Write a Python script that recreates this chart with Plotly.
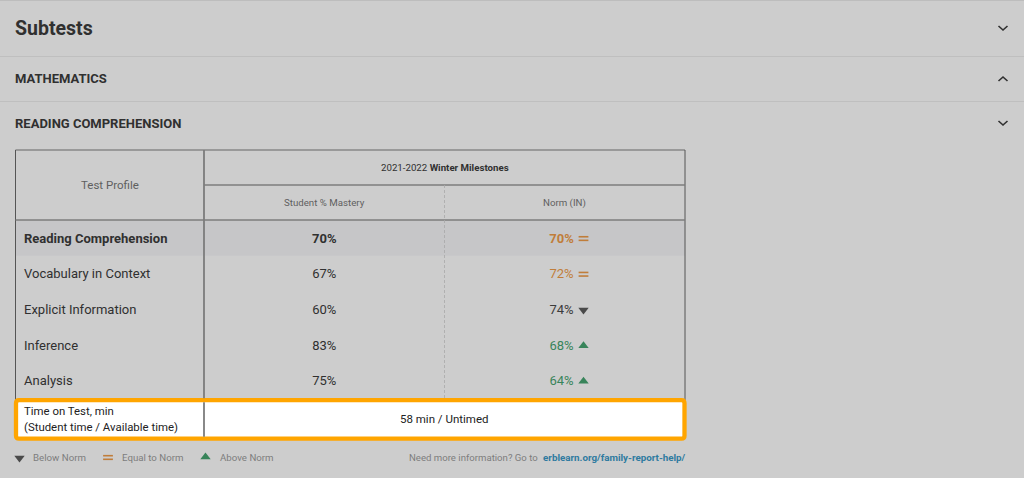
import plotly.graph_objects as go

# table content
section_titles = ['MATHEMATICS', 'READING COMPREHENSION']
row_labels = ['Reading Comprehension', 'Vocabulary in Context', 'Explicit Information', 'Inference', 'Analysis']
student_mastery = ['70%', '67%', '60%', '83%', '75%']
norm_values = ['70%', '72%', '74%', '68%', '64%']
norm_status = ['equal', 'equal', 'below', 'above', 'above']
time_label = ['Time on Test, min', '(Student time / Available time)']
time_value = '58 min / Untimed'

BG = '#cdcdcd'
DARK = '#303030'
GREY = '#5f5f5f'
FONT = 'Roboto'
STATUS_COLOR = {'equal': '#c07d3a', 'below': '#4a4a4a', 'above': '#38845a'}
TEXT_COLOR = {'equal': '#c07d3a', 'below': '#3c3c3c', 'above': '#38845a'}

# layout in pixels of the page
LEFT, COL1, COL2, RIGHT = 15.5, 204, 444.5, 685
TOP, HEAD1, HEAD2 = 150, 185, 220
ROW_H = 35.7
row_y = [HEAD2 + ROW_H * (i + 0.5) for i in range(len(row_labels))]
text_y = [y + 1.5 for y in row_y]
mark_y = [y + 0.7 for y in row_y]
ROWS_END = HEAD2 + ROW_H * len(row_labels)
BOX_T, BOX_B, BOX_L, BOX_R = 400.2, 438.7, 16, 684.5
BOX_RAD = 3
NORM_TEXT_X, NORM_MARK_X = 561.5, 583.5


def line(x0, y0, x1, y1, color='#7c7c7c', width=1.5, dash='solid'):
    return dict(type='line', x0=x0, y0=y0, x1=x1, y1=y1, layer='below',
                line=dict(color=color, width=width, dash=dash))


def note(x, y, text, size=12, color=DARK, anchor='left', bold=False):
    return dict(x=x, y=y, text='<b>%s</b>' % text if bold else text, showarrow=False,
                xanchor=anchor, yanchor='middle', align=anchor,
                font=dict(family=FONT, size=size, color=color))


fig = go.Figure()

shapes = [
    line(0, 0.5, 1024, 0.5, '#bdbdbd', 1),
    line(0, 56.5, 1024, 56.5, '#bfbfbf', 1),
    line(0, 101.5, 1024, 101.5, '#bfbfbf', 1),
    dict(type='rect', x0=LEFT, x1=RIGHT, y0=HEAD2, y1=HEAD2 + ROW_H, layer='below',
         fillcolor='#c6c6c8', line_width=0),
    line(LEFT, TOP, RIGHT, TOP, '#666666', 1.2),
    line(LEFT, TOP, LEFT, BOX_T, '#555555', 1),
    line(RIGHT, TOP, RIGHT, BOX_T, '#555555', 1),
    line(COL1, HEAD1, RIGHT, HEAD1),
    line(LEFT, HEAD2, RIGHT, HEAD2),
    line(COL2, HEAD1, COL2, ROWS_END, '#a8a8a8', 0.8, '3px,2px'),
    dict(type='path', layer='below', fillcolor='white',
         line=dict(color='#ffa500', width=4.3),
         path='M %s %s H %s Q %s %s %s %s V %s Q %s %s %s %s H %s Q %s %s %s %s V %s Q %s %s %s %s Z' % (
             BOX_L + BOX_RAD, BOX_T, BOX_R - BOX_RAD, BOX_R, BOX_T, BOX_R, BOX_T + BOX_RAD, BOX_B - BOX_RAD,
             BOX_R, BOX_B, BOX_R - BOX_RAD, BOX_B, BOX_L + BOX_RAD, BOX_L, BOX_B, BOX_L, BOX_B - BOX_RAD,
             BOX_T + BOX_RAD, BOX_L, BOX_T, BOX_L + BOX_RAD, BOX_T)),
    line(COL1, TOP, COL1, BOX_T - 2, '#7c7c7c', 1.8),
    line(COL1, BOX_T + 2, COL1, BOX_B - 2, '#7c7c7c', 1.8),
]

annotations = [
    note(13, 28.5, 'Subtests', 19.5, '#303030', bold=True),
    note(13, 78.5, section_titles[0], 13, '#303030', bold=True),
    note(13, 123.5, section_titles[1], 13, '#303030', bold=True),
    note((LEFT + COL1) / 2, 184.5, 'Test Profile', 11.5, GREY, 'center'),
    note((COL1 + RIGHT) / 2, 167.5, '2021-2022 <b>Winter Milestones</b>', 9.7, DARK, 'center'),
    note((COL1 + COL2) / 2, 202.5, 'Student % Mastery', 9.7, GREY, 'center'),
    note((COL2 + RIGHT) / 2, 202.5, 'Norm (IN)', 9.7, GREY, 'center'),
    note(22, 410.5, time_label[0], 11.4, '#222222'),
    note(22, 427, time_label[1], 11.4, '#222222'),
    note((COL1 + RIGHT) / 2, 419, time_value, 11.5, '#222222', 'center'),
    note(31, 457.5, 'Below Norm', 9.7, '#7d7d7d'),
    note(120, 457.5, 'Equal to Norm', 9.7, '#7d7d7d'),
    note(218, 457.5, 'Above Norm', 9.7, '#7d7d7d'),
    note(540, 457.5, 'Need more information? Go to', 9.6, '#7d7d7d', 'right'),
    note(688, 457.5, 'erblearn.org/family-report-help/', 9.8, '#2f7ba0', 'right', True),
]

# row labels and values
fig.add_trace(go.Scatter(x=[24] * 5, y=text_y, mode='text', text=['<b>%s</b>' % row_labels[0]] + row_labels[1:],
                         textposition='middle right',
                         textfont=dict(family=FONT, size=13, color=DARK)))
fig.add_trace(go.Scatter(x=[(COL1 + COL2) / 2] * 5, y=text_y, mode='text',
                         text=['<b>%s</b>' % student_mastery[0]] + student_mastery[1:],
                         textposition='middle center',
                         textfont=dict(family=FONT, size=13, color=DARK)))
fig.add_trace(go.Scatter(x=[NORM_TEXT_X] * 5, y=text_y, mode='text',
                         text=['<b>%s</b>' % norm_values[0]] + norm_values[1:],
                         textposition='middle center',
                         textfont=dict(family=FONT, size=13, color=[TEXT_COLOR[s] for s in norm_status])))


def add_marks(xs, ys, status, size=9):
    if status == 'equal':
        for off in (-1.8, 1.8):
            fig.add_trace(go.Scatter(x=xs, y=[y + off for y in ys], mode='markers',
                                     marker=dict(symbol='line-ew', size=7,
                                                 line=dict(color=STATUS_COLOR[status], width=1.6))))
    else:
        symbol = 'triangle-down' if status == 'below' else 'triangle-up'
        fig.add_trace(go.Scatter(x=xs, y=ys, mode='markers',
                                 marker=dict(symbol=symbol, size=size, color=STATUS_COLOR[status], line_width=0)))


for status in ['equal', 'below', 'above']:
    ys = [y for y, s in zip(mark_y, norm_status) if s == status]
    add_marks([NORM_MARK_X] * len(ys), ys, status)

# legend row
add_marks([19.5], [458], 'below')
add_marks([108], [457.5], 'equal')
add_marks([205.5], [457], 'above')

fig.update_layout(
    width=1024, height=478,
    margin=dict(l=0, r=0, t=0, b=0),
    paper_bgcolor=BG, plot_bgcolor=BG,
    showlegend=False, hovermode=False,
    shapes=shapes, annotations=annotations,
    xaxis=dict(range=[0, 1024], visible=False, fixedrange=True),
    yaxis=dict(range=[478, 0], visible=False, fixedrange=True),
)

# chevrons on the right
chevron_x = [998.5, 1003, 1007.5]
fig.add_trace(go.Scatter(x=chevron_x, y=[26, 30, 26], mode='lines', line=dict(color='#303030', width=1.6)))
fig.add_trace(go.Scatter(x=chevron_x, y=[81, 77, 81], mode='lines', line=dict(color='#303030', width=1.6)))
fig.add_trace(go.Scatter(x=chevron_x, y=[121, 125, 121], mode='lines', line=dict(color='#303030', width=1.6)))

# page margin would shift the figure by 8px
fig.write_html("out.html", config={'displayModeBar': False},
               post_script="document.body.style.margin='0';document.body.style.overflow='hidden';")
